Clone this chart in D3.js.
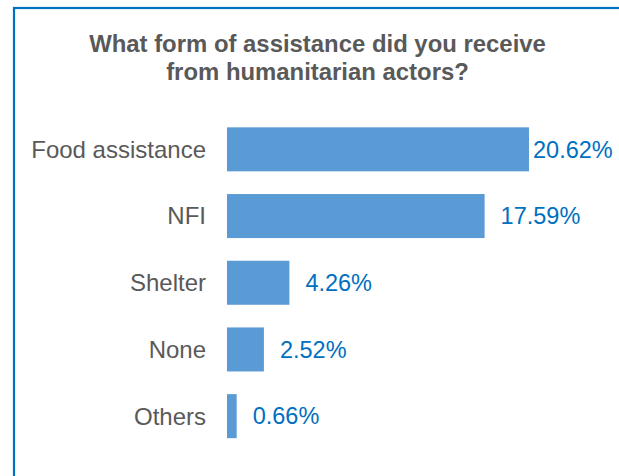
<!DOCTYPE html>
<html>
<head>
<meta charset="utf-8">
<script src="https://cdn.jsdelivr.net/npm/d3@7"></script>
<style>
  html, body { margin: 0; padding: 0; background: #fff; }
  svg { display: block; }
</style>
</head>
<body>
<svg id="chart" width="619" height="476"></svg>
<script>
const categories = ["Food assistance", "NFI", "Shelter", "None", "Others"];
const values = [20.62, 17.59, 4.26, 2.52, 0.66];
const valueLabels = ["20.62%", "17.59%", "4.26%", "2.52%", "0.66%"];
const titleLines = ["What form of assistance did you receive", "from humanitarian actors?"];

const svg = d3.select("#chart");
const W = 619, H = 476;

// frame (top and left border visible)
svg.append("rect").attr("x", 14).attr("y", 8).attr("width", W + 20).attr("height", H + 20)
  .attr("fill", "#fff").attr("stroke", "#0070C0").attr("stroke-width", 2.2);

// title
const title = svg.append("text")
  .attr("text-anchor", "middle")
  .attr("font-family", "Liberation Sans, Arial, sans-serif")
  .attr("font-weight", "bold")
  .attr("font-size", 23.9)
  .attr("fill", "#595959");
titleLines.forEach((t, i) => {
  title.append("tspan").attr("x", 317.5).attr("y", 52 + i * 27.5).text(t);
});

const x = d3.scaleLinear().domain([0, 22]).range([227, 549.2]);
const y = d3.scaleBand().domain(categories).range([116, 449.5]).paddingInner(0.34).paddingOuter(0.17);

const data = categories.map((c, i) => ({ c, v: values[i], label: valueLabels[i] }));

svg.append("g").selectAll("rect").data(data).join("rect")
  .attr("x", x(0))
  .attr("y", d => y(d.c))
  .attr("width", d => x(d.v) - x(0))
  .attr("height", y.bandwidth())
  .attr("fill", "#5B9BD5");

// category axis labels
const yAxis = d3.axisLeft(y).tickSize(0).tickPadding(21);
const gy = svg.append("g").attr("transform", `translate(${x(0)},0)`).call(yAxis);
gy.select(".domain").remove();
gy.selectAll("text")
  .attr("font-family", "Liberation Sans, Arial, sans-serif")
  .attr("font-size", 24)
  .attr("fill", "#595959")
  .attr("dy", "0.35em");

// value labels
const labelMaxX = 533;
svg.append("g").selectAll("text").data(data).join("text")
  .attr("x", d => Math.min(x(d.v) + 16, labelMaxX))
  .attr("y", d => y(d.c) + y.bandwidth() / 2)
  .attr("dy", "0.35em")
  .attr("font-family", "Liberation Sans, Arial, sans-serif")
  .attr("font-size", 23.5)
  .attr("fill", "#0070C0")
  .text(d => d.label);
</script>
</body>
</html>
